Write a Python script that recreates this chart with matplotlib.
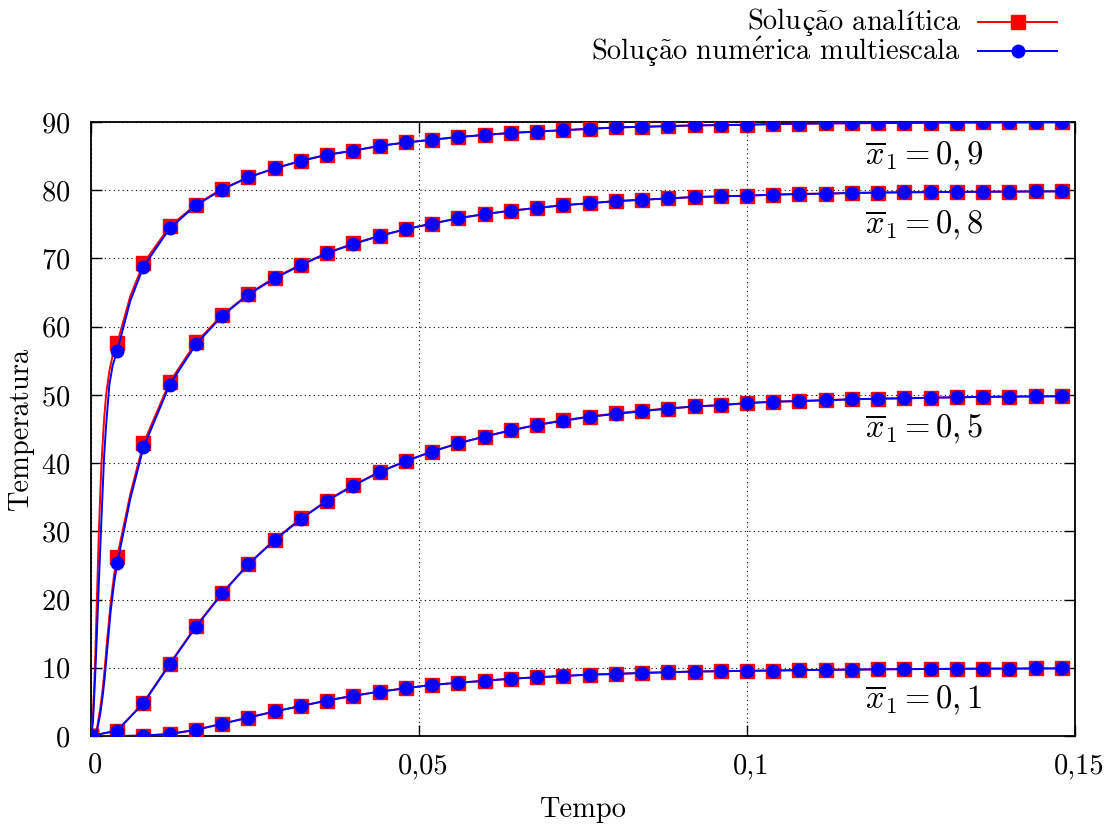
import matplotlib
matplotlib.use("Agg")
import matplotlib.pyplot as plt
from matplotlib.lines import Line2D
from matplotlib.transforms import ScaledTranslation

# ---------------- data ----------------
tempo = [0.000, 0.004, 0.008, 0.012, 0.016, 0.020, 0.024, 0.028, 0.032, 0.036,
         0.040, 0.044, 0.048, 0.052, 0.056, 0.060, 0.064, 0.068, 0.072, 0.076,
         0.080, 0.084, 0.088, 0.092, 0.096, 0.100, 0.104, 0.108, 0.112, 0.116,
         0.120, 0.124, 0.128, 0.132, 0.136, 0.140, 0.144, 0.148]

# analytic solution (red squares)
ana_09 = [0.0, 57.6, 69.3, 74.7, 77.9, 80.2, 81.9, 83.2, 84.3, 85.2,
          85.8, 86.5, 87.0, 87.4, 87.8, 88.1, 88.4, 88.6, 88.8, 89.0,
          89.2, 89.3, 89.4, 89.5, 89.55, 89.6, 89.7, 89.75, 89.8, 89.82,
          89.85, 89.87, 89.9, 89.92, 89.93, 89.94, 89.95, 89.96]
ana_08 = [0.0, 26.3, 42.9, 51.9, 57.7, 61.7, 64.8, 67.2, 69.1, 70.8,
          72.2, 73.3, 74.3, 75.1, 75.9, 76.5, 77.0, 77.4, 77.8, 78.1,
          78.4, 78.6, 78.8, 79.0, 79.1, 79.2, 79.35, 79.45, 79.5, 79.6,
          79.65, 79.7, 79.72, 79.75, 79.78, 79.8, 79.82, 79.84]
ana_05 = [0.0, 0.8, 4.9, 10.6, 16.1, 21.0, 25.2, 28.8, 31.9, 34.5,
          36.8, 38.7, 40.3, 41.7, 42.9, 43.9, 44.8, 45.6, 46.3, 46.8,
          47.3, 47.7, 48.0, 48.3, 48.5, 48.8, 49.0, 49.1, 49.25, 49.35,
          49.45, 49.5, 49.58, 49.65, 49.7, 49.75, 49.78, 49.8]
ana_01 = [0.0, 0.0, 0.05, 0.3, 0.9, 1.8, 2.7, 3.6, 4.4, 5.2,
          5.9, 6.5, 7.0, 7.5, 7.8, 8.1, 8.4, 8.6, 8.8, 9.0,
          9.1, 9.25, 9.35, 9.45, 9.5, 9.55, 9.6, 9.65, 9.7, 9.73,
          9.77, 9.8, 9.82, 9.85, 9.87, 9.88, 9.9, 9.91]

# multiscale numerical solution (blue circles)
num_09 = [0.0, 56.5, 68.8, 74.4, 77.8, 80.1, 81.9, 83.2, 84.3, 85.2,
          85.8, 86.5, 87.0, 87.4, 87.8, 88.1, 88.4, 88.6, 88.8, 89.0,
          89.2, 89.3, 89.4, 89.5, 89.55, 89.6, 89.7, 89.75, 89.8, 89.82,
          89.85, 89.87, 89.9, 89.92, 89.93, 89.94, 89.95, 89.96]
num_08 = [0.0, 25.3, 42.3, 51.5, 57.4, 61.6, 64.7, 67.1, 69.0, 70.8,
          72.1, 73.3, 74.3, 75.1, 75.9, 76.5, 77.0, 77.4, 77.8, 78.1,
          78.4, 78.6, 78.8, 79.0, 79.1, 79.2, 79.35, 79.45, 79.5, 79.6,
          79.65, 79.7, 79.72, 79.75, 79.78, 79.8, 79.82, 79.84]
num_05 = [0.0, 0.8, 4.8, 10.5, 16.0, 20.9, 25.2, 28.7, 31.8, 34.5,
          36.7, 38.7, 40.3, 41.7, 42.9, 43.9, 44.8, 45.6, 46.2, 46.8,
          47.2, 47.6, 48.0, 48.3, 48.5, 48.8, 49.0, 49.1, 49.2, 49.35,
          49.45, 49.5, 49.58, 49.65, 49.7, 49.75, 49.78, 49.8]
num_01 = [0.0, 0.0, 0.05, 0.3, 0.9, 1.8, 2.7, 3.6, 4.4, 5.2,
          5.9, 6.5, 7.0, 7.5, 7.8, 8.1, 8.4, 8.6, 8.8, 9.0,
          9.1, 9.25, 9.35, 9.45, 9.5, 9.55, 9.6, 9.65, 9.7, 9.73,
          9.77, 9.8, 9.82, 9.85, 9.87, 9.88, 9.9, 9.91]

# extra early-time points of the continuous curves (read between markers)
early_t_09 = [0.0003, 0.0006, 0.0009, 0.0012, 0.0016, 0.0020, 0.0023, 0.0028, 0.0033, 0.0060]
early_ana_09 = [3.0, 10.0, 20.0, 30.0, 40.0, 46.5, 50.0, 53.5, 55.8, 64.5]
early_num_09 = [2.0, 8.0, 15.0, 22.5, 32.0, 41.0, 45.5, 51.5, 54.3, 63.8]
early_t_08 = [0.0009, 0.0014, 0.0018, 0.0021, 0.0025, 0.0030, 0.0035, 0.0060]
early_ana_08 = [1.0, 4.0, 7.0, 10.0, 14.5, 19.5, 23.5, 35.5]
early_num_08 = [0.7, 3.2, 6.0, 8.7, 13.0, 18.3, 22.3, 34.8]

labels = [r'$\overline{x}_1 = 0,9$', r'$\overline{x}_1 = 0,8$',
          r'$\overline{x}_1 = 0,5$', r'$\overline{x}_1 = 0,1$']
label_pos_t = [0.127, 0.127, 0.127, 0.127]
label_pos_T = [85.0, 74.9, 45.0, 5.2]

xticks = [0.0, 0.05, 0.10, 0.15]
xtick_labels = ['0', '0,05', '0,1', '0,15']
yticks = [0, 10, 20, 30, 40, 50, 60, 70, 80, 90]

# legend labels split in pieces: (text, uses_fallback_font)
legend_pieces = [
    [('Solu', False), ('ç', True), (r'$\mathrm{\~a}$o anal', False), ('í', True), ('tica', False)],
    [('Solu', False), ('ç', True), (r'$\mathrm{\~a}$o num$\mathrm{\'e}$rica multiescala', False)],
]

# ---------------- style ----------------
plt.rcParams['font.family'] = ['cmr10', 'STIXGeneral', 'DejaVu Serif']
plt.rcParams['mathtext.fontset'] = 'cm'
plt.rcParams['axes.formatter.use_mathtext'] = True
FS = 20.5
FS_ANN = 23.5

W, H = 1111, 827
fig = plt.figure(figsize=(W / 100, H / 100), dpi=100)
ax = fig.add_axes([91/W, 1-736/H, (1075-91)/W, (736-122)/H])


def merged(t_m, y_m, t_e, y_e):
    pts = sorted(zip(list(t_m) + list(t_e), list(y_m) + list(y_e)))
    return [p[0] for p in pts], [p[1] for p in pts]


red = '#ff0000'
blue = '#0000ff'
lw = 1.4
ms_sq = 9.5
ms_ci = 9.0

ana_series = [(ana_09, early_t_09, early_ana_09), (ana_08, early_t_08, early_ana_08),
              (ana_05, [], []), (ana_01, [], [])]
num_series = [(num_09, early_t_09, early_num_09), (num_08, early_t_08, early_num_08),
              (num_05, [], []), (num_01, [], [])]

for y, et, ey in ana_series:
    tl, yl = merged(tempo, y, et, ey)
    ax.plot(tl, yl, color=red, lw=lw, zorder=3)
    ax.plot(tempo, y, ls='none', marker='s', ms=ms_sq, color=red, mec=red, zorder=4)

for y, et, ey in num_series:
    tl, yl = merged(tempo, y, et, ey)
    ax.plot(tl, yl, color=blue, lw=lw, zorder=5)
    ax.plot(tempo, y, ls='none', marker='o', ms=ms_ci, color=blue, mec=blue, zorder=6)

for lab, xt, yt in zip(labels, label_pos_t, label_pos_T):
    ax.text(xt, yt, lab, fontsize=FS_ANN, ha='center', va='center', zorder=7)

ax.set_xlim(0, 0.15)
ax.set_ylim(0, 90)
ax.set_xticks(xticks)
ax.set_xticklabels(xtick_labels)
ax.set_yticks(yticks)
ax.tick_params(direction='in', length=8, width=1, top=True, right=True,
               labelsize=FS)
ax.tick_params(axis='y', pad=15)
ax.tick_params(axis='x', pad=12)
ax.grid(True, color='black', ls=(0, (1, 3)), lw=0.8)
for s in ax.spines.values():
    s.set_linewidth(1.3)
shift = ScaledTranslation(4 / 100, 0, fig.dpi_scale_trans)
for lbl in ax.get_xticklabels():
    lbl.set_transform(lbl.get_transform() + shift)

ax.set_xlabel('Tempo', fontsize=FS, labelpad=13)
ax.set_ylabel('Temperatura', fontsize=FS, labelpad=5)

# ---------------- legend (drawn by hand, right-aligned text) ----------------
renderer = fig.canvas.get_renderer()
text_right = 960
line_x0, line_x1 = 978, 1057
row_line_y = [22, 51]
row_base_y = [29.5, 59.5]
handles = [dict(color=red, marker='s', ms=ms_sq), dict(color=blue, marker='o', ms=ms_ci)]

for pieces, ly, by, hd in zip(legend_pieces, row_line_y, row_base_y, handles):
    fig.add_artist(Line2D([line_x0 / W, line_x1 / W], [1 - ly / H, 1 - ly / H],
                          transform=fig.transFigure, color=hd['color'], lw=lw))
    fig.add_artist(Line2D([(line_x0 + line_x1) / 2 / W], [1 - ly / H],
                          transform=fig.transFigure, color=hd['color'], ls='none',
                          marker=hd['marker'], ms=hd['ms'], mec=hd['color']))
    xr = text_right
    for s, fb in reversed(pieces):
        kw = dict(family='STIXGeneral') if fb else {}
        t = fig.text(xr / W, 1 - by / H, s, fontsize=FS, ha='right', va='baseline', **kw)
        bb = t.get_window_extent(renderer)
        xr -= bb.width

fig.savefig('out.png', dpi=100)
